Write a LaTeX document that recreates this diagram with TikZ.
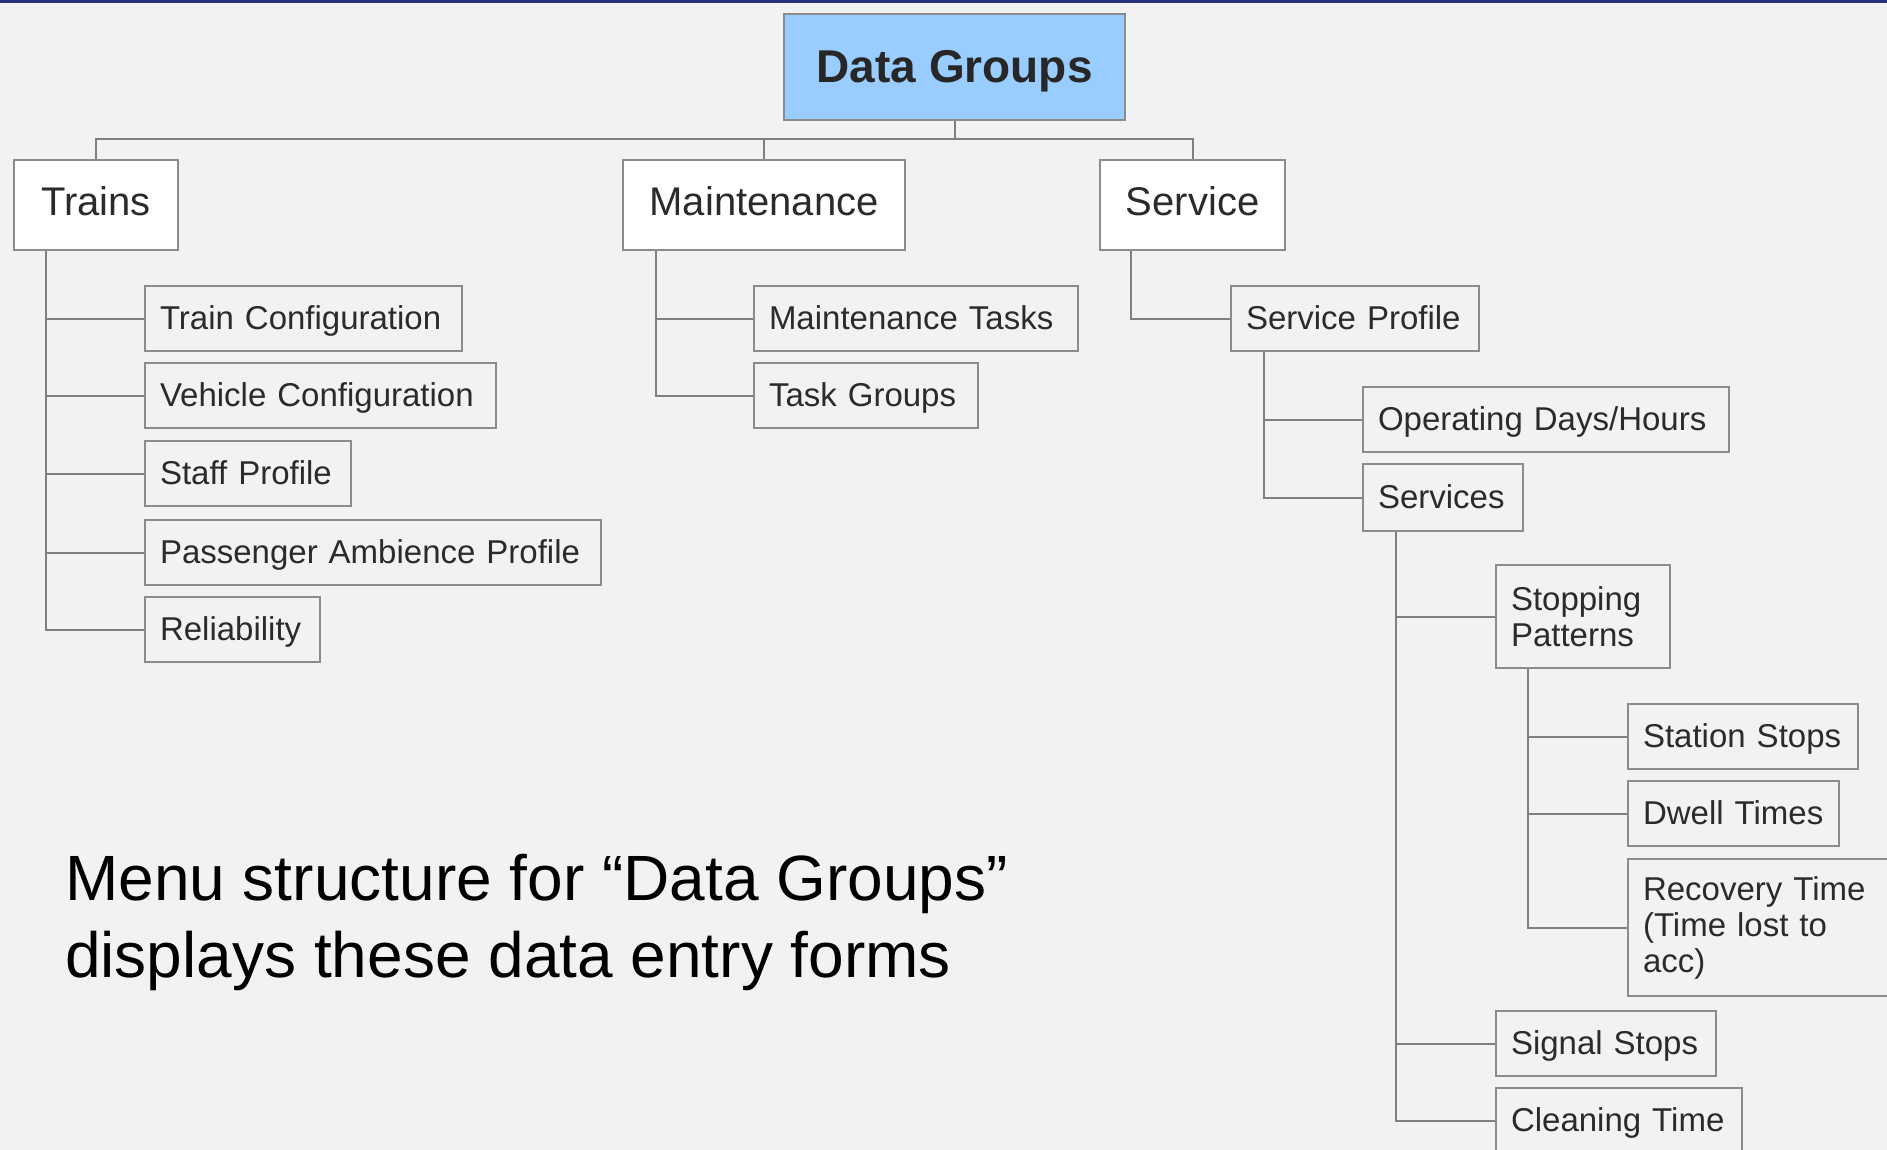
\documentclass[tikz,border=0pt]{standalone}
\usepackage{fontspec}
\setmainfont{Liberation Sans}
\definecolor{bg}{HTML}{F2F2F2}
\definecolor{lineg}{HTML}{7F7F7F}
\definecolor{boxg}{HTML}{8C8C8C}
\definecolor{dgblue}{HTML}{99CCFF}
\definecolor{txt}{HTML}{2B2B2B}
\definecolor{navy}{HTML}{27307A}
\begin{document}
\begin{tikzpicture}[x=1pt,y=-1pt,
  conn/.style={draw=lineg,line width=2pt},
  lvone/.style={draw=boxg,line width=2.2pt,fill=white,anchor=north west,minimum height=90pt,inner sep=0pt,text=txt,text height=29pt,text depth=8pt,font=\fontsize{40}{44}\selectfont},
  lvtwo/.style={draw=boxg,line width=2pt,anchor=north west,minimum height=65pt,inner xsep=15pt,inner ysep=0pt,align=left,text=txt,font=\fontsize{33}{36}\selectfont},
  oneline/.style={text height=24pt,text depth=2pt},
  captxt/.style={anchor=base west,inner sep=0pt,text=black,font=\fontsize{64}{77}\selectfont}]
\useasboundingbox (0,0) rectangle (1887,1150);
\clip (0,0) rectangle (1887,1150);
\fill[bg] (0,0) rectangle (1887,1150);
\fill[navy] (0,0) rectangle (1887,3);

% top
\node[lvone,fill=dgblue,minimum width=341pt,minimum height=106pt,text height=34pt,text depth=3pt,font=\bfseries\fontsize{46}{50}\selectfont,text=txt!90!black] (dg) at (783,13) {Data Groups};
\node[lvone,minimum width=164pt] (trains) at (13,159) {Trains};
\node[lvone,minimum width=282pt] (maint) at (622,159) {Maintenance};
\node[lvone,minimum width=185pt] (serv) at (1099,159) {Service};

% Trains children
\node[lvtwo,oneline,text width=287pt] (tc) at (144,285) {Train Configuration};
\node[lvtwo,oneline,text width=321pt] (vc) at (144,362) {Vehicle Configuration};
\node[lvtwo,oneline,text width=176pt] (sp) at (144,440) {Staff Profile};
\node[lvtwo,oneline,text width=426pt] (pap) at (144,519) {Passenger Ambience Profile};
\node[lvtwo,oneline,text width=145pt] (rel) at (144,596) {Reliability};

% Maintenance children
\node[lvtwo,oneline,text width=294pt] (mt) at (753,285) {Maintenance Tasks};
\node[lvtwo,oneline,text width=194pt] (tg) at (753,362) {Task Groups};

% Service subtree
\node[lvtwo,oneline,text width=218pt] (spf) at (1230,285) {Service Profile};
\node[lvtwo,oneline,text width=336pt] (odh) at (1362,386) {Operating Days/Hours};
\node[lvtwo,oneline,text width=130pt,minimum height=67pt] (svc) at (1362,463) {Services};
\node[lvtwo,text width=144pt,minimum height=103pt] (stp) at (1495,564) {Stopping\\Patterns};
\node[lvtwo,oneline,text width=200pt] (ss) at (1627,703) {Station Stops};
\node[lvtwo,oneline,text width=181pt] (dw) at (1627,780) {Dwell Times};
\node[lvtwo,text width=250pt,minimum height=137pt] (rt) at (1627,858) {Recovery Time\\(Time lost to\\acc)};
\node[lvtwo,oneline,text width=190pt] (sig) at (1495,1010) {Signal Stops};
\node[lvtwo,oneline,text width=216pt] (cln) at (1495,1087) {Cleaning Time};

% connectors level 1
\draw[conn] (dg.south) -- ++(0,18) -| (trains.north);
\draw[conn] (dg.south) -- ++(0,18) -| (maint.north);
\draw[conn] (dg.south) -- ++(0,18) -| (serv.north);

% Trains
\foreach \c in {tc,vc,sp,pap,rel}
  \draw[conn] ([xshift=33pt]trains.south west) |- (\c.west);
% Maintenance
\foreach \c in {mt,tg}
  \draw[conn] ([xshift=34pt]maint.south west) |- (\c.west);
% Service
\draw[conn] ([xshift=32pt]serv.south west) |- (spf.west);
\foreach \c in {odh,svc}
  \draw[conn] ([xshift=34pt]spf.south west) |- (\c.west);
\foreach \c in {stp,sig,cln}
  \draw[conn] ([xshift=34pt]svc.south west) |- (\c.west);
\foreach \c in {ss,dw,rt}
  \draw[conn] ([xshift=33pt]stp.south west) |- (\c.west);

% caption
\node[captxt] (cap1) at (65,900) {Menu structure for “Data Groups”};
\node[captxt] (cap2) at (65,977) {displays these data entry forms};
\end{tikzpicture}
\end{document}
